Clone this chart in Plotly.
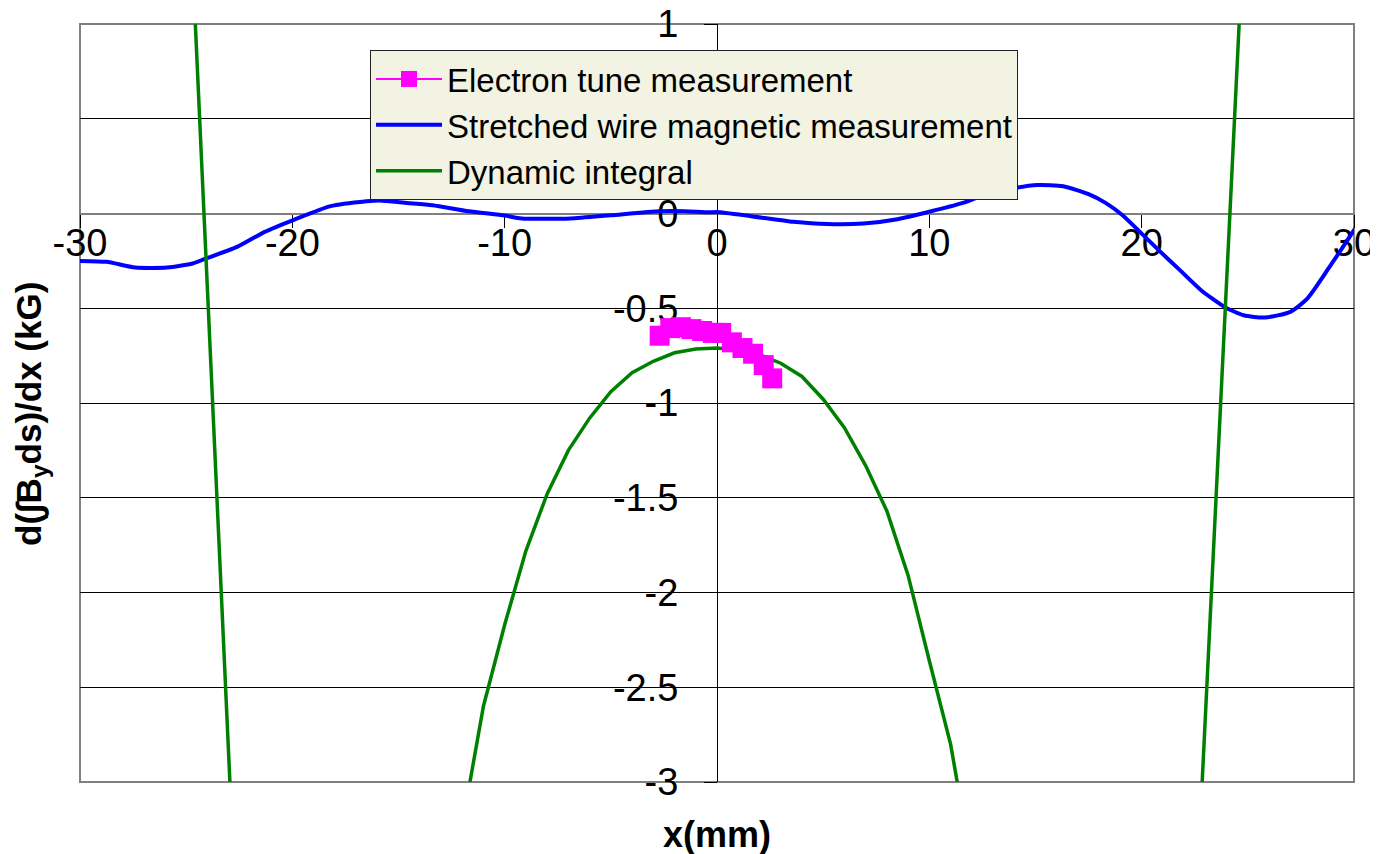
import plotly.graph_objects as go

# ---------------- data ----------------
tune_x = [-2.7, -2.2, -1.7, -1.2, -0.7, -0.2, 0.2, 0.7, 1.2, 1.7, 2.2, 2.6]
tune_y = [-0.645, -0.605, -0.600, -0.61, -0.62, -0.63, -0.63, -0.68, -0.71, -0.74, -0.80, -0.87]

wire_x = [-30, -28.75, -27.4, -25.9, -24.7, -24.15, -22.6, -21.3, -19.9, -18.2, -16.5, -15.9,
          -14.6, -13.4, -11.7, -10.0, -9.2, -6.9, -5.0, -2.7, -1.5, -0.4, 0.0, 1.6, 3.6, 5.2,
          6.9, 8.5, 10.0, 11.5, 12.7, 13.9, 15.1, 16.3, 17.5, 18.3, 19.1, 20.0, 20.8, 21.8,
          22.8, 23.9, 24.8, 25.8, 27.0, 27.8, 28.8, 30.0, 30.65]
wire_y = [-0.25, -0.255, -0.285, -0.285, -0.264, -0.241, -0.176, -0.097, -0.032, 0.039, 0.065, 0.069,
          0.056, 0.044, 0.012, -0.011, -0.026, -0.026, -0.009, 0.012, 0.012, 0.006, 0.008, -0.014, -0.044, -0.056,
          -0.053, -0.03, 0.009, 0.053, 0.102, 0.132, 0.15, 0.144, 0.102, 0.056, -0.009, -0.106, -0.193, -0.299,
          -0.405, -0.493, -0.537, -0.549, -0.519, -0.449, -0.29, -0.088, 0.026]

dyn_x = [-25, -24, -23, -22, -12, -11, -10, -9, -8, -7, -6, -5, -4, -3, -2, -1, 0,
         1, 2, 3, 4, 5, 6, 7, 8, 9, 10, 11, 12, 22, 23, 24, 25]
dyn_y = [2.06, -0.40, -2.85, -5.31, -3.23, -2.60, -2.17, -1.78, -1.48, -1.25, -1.08, -0.94, -0.84,
         -0.78, -0.735, -0.715, -0.71, -0.72, -0.745, -0.79, -0.86, -0.98, -1.13, -1.33, -1.57,
         -1.91, -2.36, -2.80, -3.44, -4.95, -2.655, -0.356, 1.94]

x_tickvals = [-30, -20, -10, 0, 10, 20, 30]
x_ticktext = ["-30", "-20", "-10", "0", "10", "20", "30"]
y_tickvals = [1, 0.5, 0, -0.5, -1, -1.5, -2, -2.5, -3]
y_ticktext = ["1", "0.5", "0", "-0.5", "-1", "-1.5", "-2", "-2.5", "-3"]

names = ["Electron tune measurement", "Stretched wire magnetic measurement", "Dynamic integral"]

TICKFONT = dict(family="Liberation Sans, Arial, sans-serif", size=38, color="black")
LEGFONT = dict(family="Liberation Sans, Arial, sans-serif", size=33, color="black")

fig = go.Figure()
fig.add_trace(go.Scatter(x=wire_x, y=wire_y, mode="lines", name=names[1], legendrank=2,
                         line=dict(color="#0000FF", width=4, shape="spline", smoothing=0.6)))
fig.add_trace(go.Scatter(x=dyn_x, y=dyn_y, mode="lines", name=names[2], legendrank=3,
                         line=dict(color="#008000", width=3.5)))
fig.add_trace(go.Scatter(x=tune_x, y=tune_y, mode="lines+markers", name=names[0], legendrank=1,
                         line=dict(color="#FF00FF", width=2),
                         marker=dict(symbol="square", size=20, color="#FF00FF",
                                     line=dict(width=0))))

# page body has an 8px margin: figure is 1370x846 so plot area lands at 80..1354 x 24..782
fig.update_layout(
    width=1370, height=846,
    margin=dict(l=72, r=24, t=16, b=72, autoexpand=False),
    paper_bgcolor="white", plot_bgcolor="white",
    showlegend=True,
    legend=dict(x=(370 - 80) / 1274, y=1 - (50 - 24) / 758, xanchor="left", yanchor="top",
                bgcolor="#F3F3E3", bordercolor="#222222", borderwidth=1,
                font=LEGFONT, tracegroupgap=0, itemwidth=66),
    xaxis=dict(range=[-30, 30], anchor="free", position=0.75, automargin=False,
               tickmode="array", tickvals=x_tickvals, ticktext=x_ticktext,
               ticks="outside", ticklen=13, tickcolor="black", tickwidth=1,
               showline=True, linecolor="#808080", linewidth=2,
               showgrid=False, zeroline=False, tickfont=TICKFONT, layer="below traces",
               ticklabelstandoff=-17, ticklabeloverflow="allow", fixedrange=True),
    yaxis=dict(range=[-3, 1], anchor="free", position=0.5, automargin=False,
               tickmode="array", tickvals=y_tickvals, ticktext=y_ticktext,
               ticks="outside", ticklen=13, tickcolor="black", tickwidth=1,
               showline=True, linecolor="black", linewidth=1,
               showgrid=True, gridcolor="black", gridwidth=1,
               zeroline=False, tickfont=TICKFONT, layer="below traces",
               ticklabelstandoff=18, ticklabeloverflow="allow", fixedrange=True),
    shapes=[dict(type="rect", xref="paper", yref="paper", x0=0, x1=1, y0=0, y1=1,
                 line=dict(color="#808080", width=2), layer="below")],
    annotations=[
        dict(text="<b>x(mm)</b>", xref="paper", yref="paper", x=0.5, y=(782 - 834) / 758,
             xanchor="center", yanchor="middle", showarrow=False,
             font=dict(family="Liberation Sans, Arial, sans-serif", size=36, color="black")),
        dict(text="<b>d(∫B<sub>y</sub>ds)/dx (kG)</b>", xref="paper", yref="paper",
             x=(31 - 80) / 1274, y=1 - (414 - 24) / 758, textangle=-90,
             xanchor="center", yanchor="middle", showarrow=False,
             font=dict(family="Liberation Sans, Arial, sans-serif", size=35, color="black")),
    ],
)

fig.write_html("out.html")
